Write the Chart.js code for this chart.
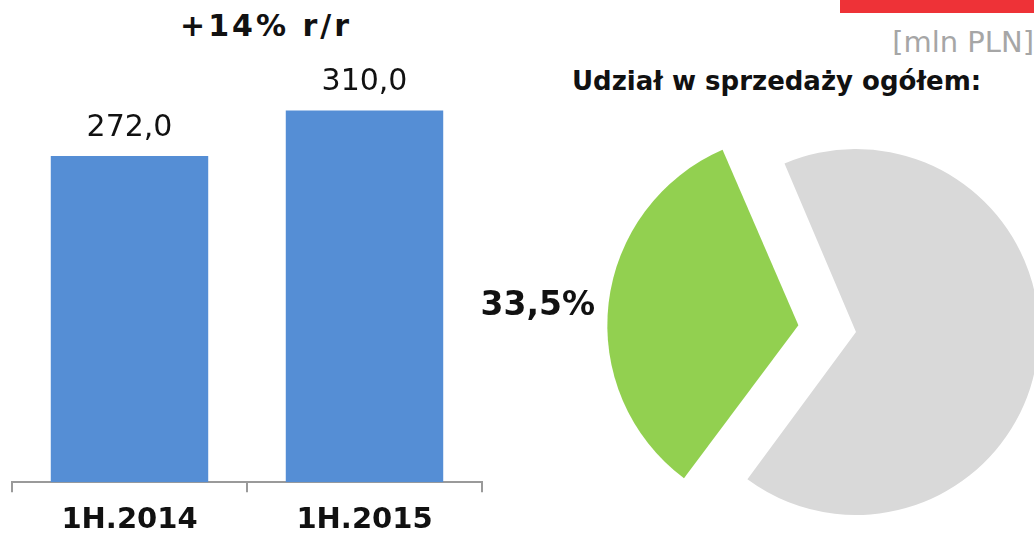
<!DOCTYPE html>
<html>
<head>
<meta charset="utf-8">
<script src="https://cdn.jsdelivr.net/npm/chart.js@4/dist/chart.umd.min.js"></script>
<style>
    html, body { margin: 0; padding: 0; background: #fff; }
    body { width: 1034px; height: 533px; overflow: hidden; position: relative; font-family: "DejaVu Sans", Verdana, sans-serif; }
    .txt { position: absolute; white-space: nowrap; }
    #growth { left: 180px; top: 8px; font-size: 30px; font-weight: bold; letter-spacing: 3px; color: #111; }
    #unit { right: 0px; top: 25px; font-size: 29px; color: #a6a6a6; }
    #shareTitle { left: 572px; top: 66px; font-size: 26px; font-weight: bold; color: #111; }
    #redBar { position: absolute; left: 840px; top: 0; width: 194px; height: 13px; background: #ee3237; }
    #barChart { position: absolute; left: 0; top: 0; }
    #pieChart { position: absolute; left: 456px; top: 82px; }
</style>
</head>
<body>
<div id="redBar"></div>
<div class="txt" id="growth">+14% r/r</div>
<div class="txt" id="unit">[mln PLN]</div>
<div class="txt" id="shareTitle">Udział w sprzedaży ogółem:</div>
<canvas id="barChart" width="500" height="549"></canvas>
<canvas id="pieChart" width="800" height="500"></canvas>
<script>
// Sales values (mln PLN)
const periods = ["1H.2014", "1H.2015"];
const sales = [272.0, 310.0];

// Share of total sales (%)
const shareLabels = ["Pozostałe", "Segment"];
const shares = [66.5, 33.5];

const fmt = v => v.toFixed(1).replace(".", ",");

// Value labels above the bars
const barLabels = {
    id: "barLabels",
    afterDatasetsDraw(chart) {
        const ctx = chart.ctx;
        const meta = chart.getDatasetMeta(0);
        ctx.save();
        ctx.font = "30px 'DejaVu Sans'";
        ctx.fillStyle = "#111";
        ctx.textAlign = "center";
        ctx.textBaseline = "alphabetic";
        meta.data.forEach((bar, i) => {
            ctx.fillText(fmt(chart.data.datasets[0].data[i]), bar.x, bar.y - 20);
        });
        ctx.restore();
    }
};

// Percent label left of the green slice
const pieLabel = {
    id: "pieLabel",
    afterDatasetsDraw(chart) {
        const ctx = chart.ctx;
        const arc = chart.getDatasetMeta(0).data[1];
        const value = chart.data.datasets[0].data[1];
        ctx.save();
        ctx.font = "bold 33px 'DejaVu Sans'";
        ctx.fillStyle = "#111";
        ctx.textAlign = "right";
        ctx.textBaseline = "middle";
        ctx.fillText(fmt(value) + "%", arc.x - arc.outerRadius - 78, arc.y - 26);
        ctx.restore();
    }
};

new Chart(document.getElementById("barChart"), {
    type: "bar",
    data: {
        labels: periods,
        datasets: [{
            data: sales,
            backgroundColor: "#558ed5",
            borderWidth: 0,
            categoryPercentage: 1,
            barPercentage: 0.67
        }]
    },
    options: {
        responsive: false,
        animation: false,
        layout: { padding: { left: 12, right: 18, top: 60, bottom: 0 } },
        plugins: { legend: { display: false }, tooltip: { enabled: false } },
        scales: {
            y: { display: false, min: 0, max: 352 },
            x: {
                grid: { display: true, drawOnChartArea: false, drawTicks: true, tickLength: 10, color: "#9a9a9a", lineWidth: 2 },
                border: { display: true, color: "#9a9a9a", width: 2 },
                ticks: { color: "#111", padding: 11, font: { family: "DejaVu Sans", size: 29, weight: "bold" } }
            }
        }
    },
    plugins: [barLabels]
});

new Chart(document.getElementById("pieChart"), {
    type: "pie",
    data: {
        labels: shareLabels,
        datasets: [{
            data: shares,
            backgroundColor: ["#d9d9d9", "#92d050"],
            borderWidth: 0,
            offset: [0, 232]
        }]
    },
    options: {
        responsive: false,
        animation: false,
        radius: 183,
        rotation: -23,
        plugins: { legend: { display: false }, tooltip: { enabled: false } }
    },
    plugins: [pieLabel]
});
</script>
</body>
</html>
